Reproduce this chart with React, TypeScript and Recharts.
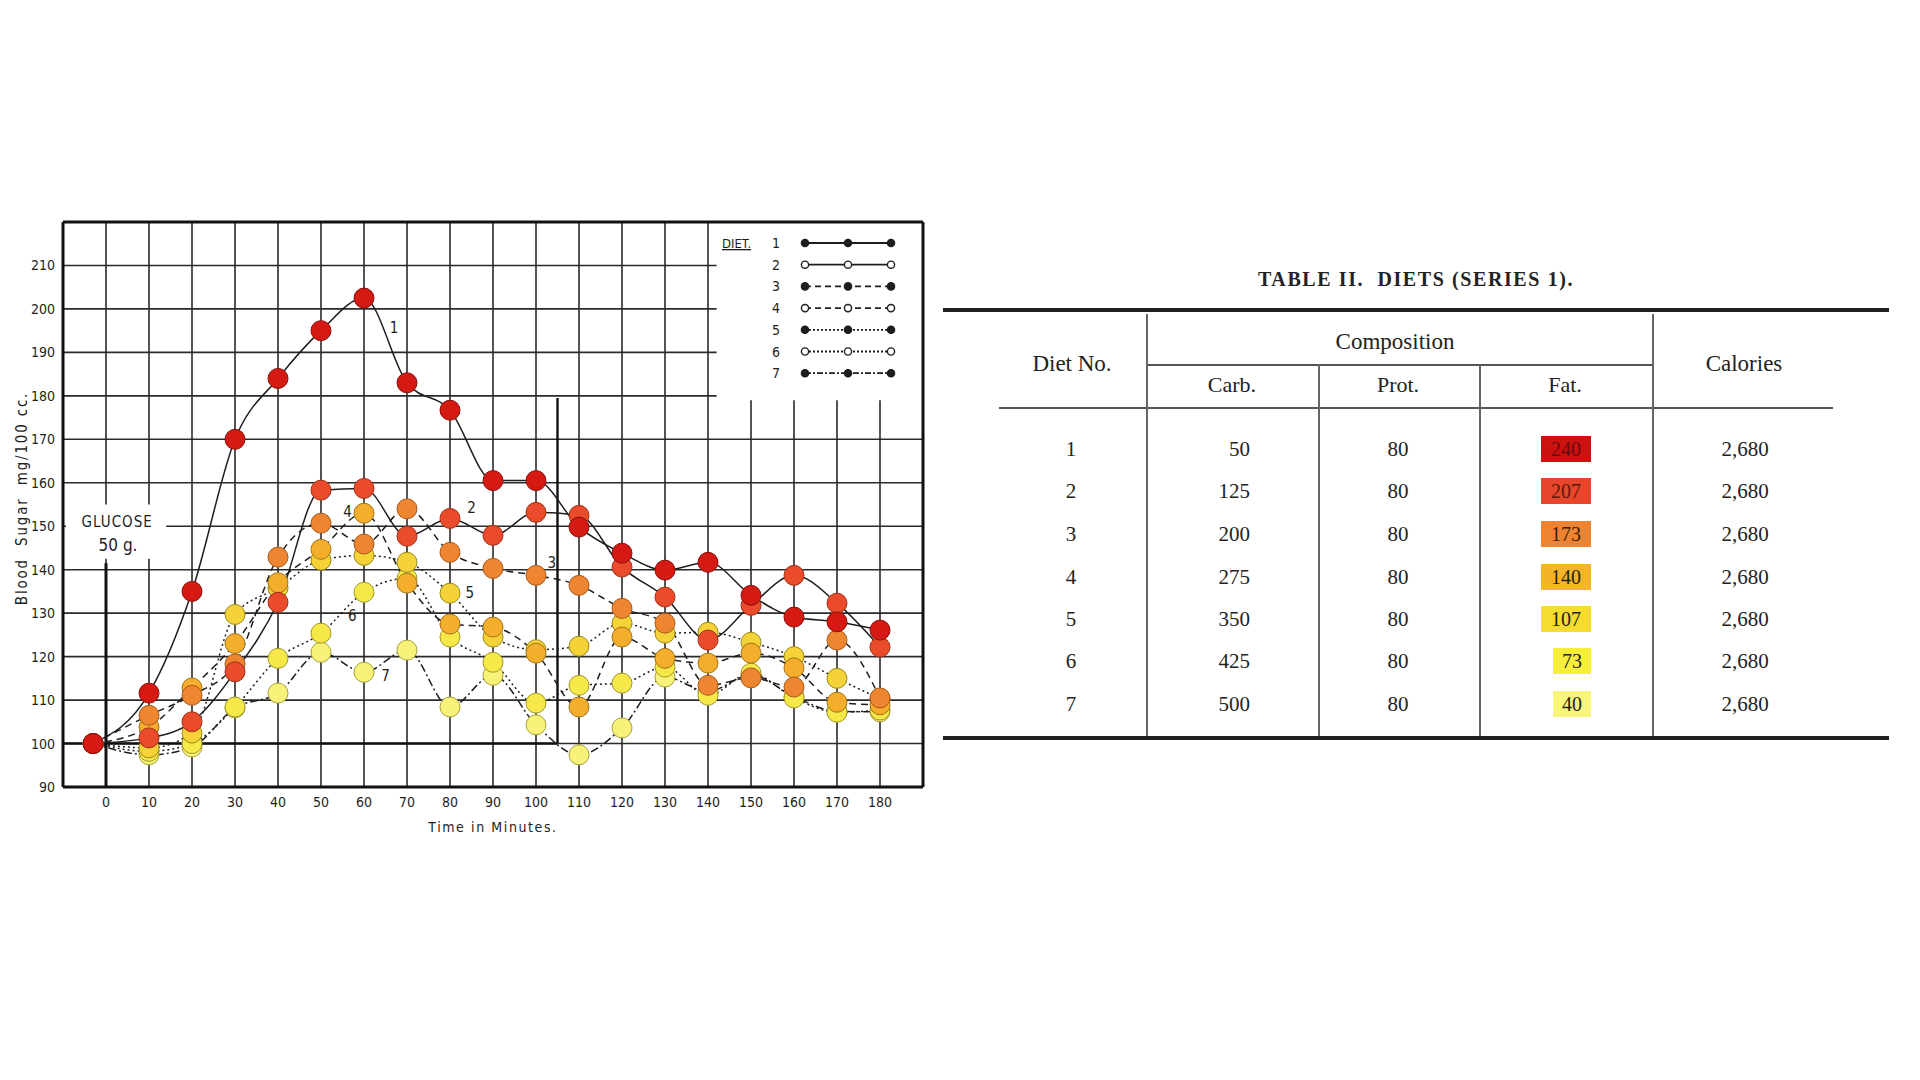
import React from "react";
import {
  CartesianGrid,
  Legend,
  Line,
  LineChart,
  ReferenceArea,
  ReferenceDot,
  ReferenceLine,
  XAxis,
  YAxis,
} from "recharts";

// minutes after glucose; first reading plotted just left of 0
const times = [-3, 10, 20, 30, 40, 50, 60, 70, 80, 90, 100, 110, 120, 130, 140, 150, 160, 170, 180];

const diet1 = [100, 111.6, 135, 170, 184, 195, 202.5, 183, 176.7, 160.5, 160.5, 149.8, 143.8, 139.9, 141.7, 134.1, 129.1, 128, 126.1];
const diet2 = [100, 101.3, 105, 116.5, 132.5, 158.3, 158.7, 147.7, 151.8, 147.9, 153.2, 152.5, 140.6, 133.7, 123.8, 131.8, 138.7, 132.3, 122.2];
const diet3 = [100, 106.5, 111.1, 118.3, 142.9, 150.7, 145.9, 154, 144, 140.3, 138.7, 136.4, 131.1, 127.7, 113.4, 115.1, 113, 123.8, 110.5];
const diet4 = [100, 103.8, 112.8, 123, 137, 144.7, 153, 136.9, 127.5, 126.8, 120.8, 108.4, 124.5, 119.6, 118.5, 120.8, 117.4, 109.5, 108.9];
const diet5 = [100, 99, 102.4, 129.7, 135.8, 142.2, 143.3, 141.7, 134.6, 124.5, 121.6, 122.4, 127.7, 125.4, 125.6, 123.3, 120, 115, 110.3];
const diet6 = [100, 98.2, 100, 108.4, 119.6, 125.4, 134.8, 138, 124.5, 118.7, 109.3, 113.4, 113.9, 117.6, 111.1, 116.2, 110.5, 107.2, 107.7];
const diet7 = [100, 97.4, 99.2, 108.2, 111.6, 121, 116.4, 121.5, 108.4, 115.7, 104.3, 97.4, 103.6, 115.3, 112, 115.8, 110.8, 107.4, 107.3];

const dietSeries = [diet1, diet2, diet3, diet4, diet5, diet6, diet7];
const dietNames = ["1", "2", "3", "4", "5", "6", "7"];
const dietFill = ["#d41a12", "#e94b2b", "#ee8531", "#f4ae2c", "#f5d338", "#f7e84a", "#f8f27a"];
const dietEdge = ["#8c1008", "#a03018", "#a85a18", "#a07518", "#9a8a18", "#a09a28", "#a8a23a"];
const dietDash = ["", "", "7 5", "7 5", "2 3", "2 3", "8 3 2 3"];
const legendDash = ["", "", "6 4", "6 4", "2 2", "2 2", "6 2 2 2"];
const legendOpen = [false, true, false, true, false, true, false];

// curve numbers written beside the lines: [label, minutes, mg]
const curveLabels: [string, number, number][] = [
  ["1", 67, 195.7],
  ["2", 85, 154.3],
  ["3", 103.7, 141.5],
  ["4", 56.2, 153.3],
  ["5", 84.6, 134.8],
  ["6", 57.3, 129.4],
  ["7", 65, 115.6],
];

const yTicks = [90, 100, 110, 120, 130, 140, 150, 160, 170, 180, 190, 200, 210];
const xTicks = [0, 10, 20, 30, 40, 50, 60, 70, 80, 90, 100, 110, 120, 130, 140, 150, 160, 170, 180];

// table II
const carb = [50, 125, 200, 275, 350, 425, 500];
const prot = [80, 80, 80, 80, 80, 80, 80];
const fat = [240, 207, 173, 140, 107, 73, 40];
const calories = ["2,680", "2,680", "2,680", "2,680", "2,680", "2,680", "2,680"];
const fatColors = ["#cc1111", "#e8452a", "#ee8432", "#f2b52a", "#f6dc30", "#f8ef3a", "#f9f67c"];
const fatText = ["#6a0a0a", "#5a1a0a", "#3a2008", "#2a2008", "#222", "#222", "#222"];

const chartData = times.map((t, i) => {
  const row: Record<string, number> = { t };
  dietSeries.forEach((s, k) => (row["d" + (k + 1)] = s[i]));
  return row;
});

const axisFont = "'Liberation Sans Narrow', 'DejaVu Sans Condensed', 'DejaVu Sans', sans-serif";
const serif = "'Liberation Serif', 'DejaVu Serif', serif";
const ink = "#1e1e1e";

function YLabel(props: any) {
  const vb = props.viewBox || { x: 23, y: 222, width: 40, height: 565 };
  const cx = vb.x - 1;
  const cy = vb.y + vb.height / 2 - 6;
  return (
    <text
      x={cx}
      y={cy}
      transform={`rotate(-90 ${cx} ${cy})`}
      textAnchor="middle"
      dominantBaseline="central"
      fontFamily={axisFont}
      fontSize={15}
      letterSpacing={1.8}
      fill={ink}
      style={{ whiteSpace: "pre" }}
    >
      Blood  Sugar  mg/100 cc.
    </text>
  );
}

function DietLegend() {
  return (
    <svg width={205} height={160}>
      <text x={5} y={16} fontFamily={axisFont} fontSize={13} fill={ink} textDecoration="underline">
        DIET.
      </text>
      {dietNames.map((n, i) => {
        const y = 11 + i * 21.7;
        return (
          <g key={n}>
            <text x={55} y={y + 5} fontFamily={axisFont} fontSize={14} fill={ink}>
              {n}
            </text>
            <line x1={88} x2={174} y1={y} y2={y} stroke={ink} strokeWidth={1.8} strokeDasharray={legendDash[i]} />
            {[88, 131, 174].map((cx) => (
              <circle
                key={cx}
                cx={cx}
                cy={y}
                r={3.6}
                fill={legendOpen[i] ? "#fff" : ink}
                stroke={ink}
                strokeWidth={1.4}
              />
            ))}
          </g>
        );
      })}
    </svg>
  );
}

function DietTable() {
  const rowY = [449, 491, 534, 577, 619, 661, 704];
  const rule = (top: number, left: number, width: number, h: number, c: string) => (
    <div style={{ position: "absolute", top, left, width, height: h, background: c }} />
  );
  const vline = (left: number, top: number) => (
    <div style={{ position: "absolute", top, left, width: 1.5, height: 736 - top, background: "#666" }} />
  );
  const txt = (s: React.ReactNode, cx: number, cy: number, extra: React.CSSProperties = {}) => (
    <div
      style={{
        position: "absolute",
        left: cx - 150,
        top: cy - 15,
        width: 300,
        height: 30,
        lineHeight: "30px",
        textAlign: "center",
        fontFamily: serif,
        fontSize: 21,
        color: "#222",
        whiteSpace: "pre",
        ...extra,
      }}
    >
      {s}
    </div>
  );
  return (
    <div style={{ position: "absolute", left: 0, top: 0, width: 1920, height: 1080 }}>
      {txt("TABLE II.  DIETS (SERIES 1).", 1416, 279, { width: 600, left: 1116, fontSize: 20, fontWeight: 700, letterSpacing: 1.6 })}
      {rule(308, 943, 946, 4, "#222")}
      {rule(736, 943, 946, 4, "#222")}
      {rule(364, 1146, 506, 2, "#555")}
      {rule(407, 999, 834, 2, "#555")}
      {vline(1146, 314)}
      {vline(1318, 365)}
      {vline(1479, 365)}
      {vline(1652, 314)}
      {txt("Composition", 1395, 342, { fontSize: 23 })}
      {txt("Diet No.", 1072, 364, { fontSize: 23 })}
      {txt("Calories", 1744, 364, { fontSize: 23 })}
      {txt("Carb.", 1232, 385, { fontSize: 22 })}
      {txt("Prot.", 1398, 385, { fontSize: 22 })}
      {txt("Fat.", 1565, 385, { fontSize: 22 })}
      {dietNames.map((n, i) => (
        <React.Fragment key={n}>
          {txt(n, 1071, rowY[i])}
          <div
            style={{
              position: "absolute",
              left: 1150,
              width: 100,
              top: rowY[i] - 15,
              height: 30,
              lineHeight: "30px",
              textAlign: "right",
              fontFamily: serif,
              fontSize: 21,
              color: "#222",
            }}
          >
            {carb[i]}
          </div>
          {txt(prot[i], 1398, rowY[i])}
          <div
            style={{
              position: "absolute",
              left: 1591 - (String(fat[i]).length * 12 + 14),
              width: String(fat[i]).length * 12 + 14,
              top: rowY[i] - 13,
              height: 26,
              lineHeight: "26px",
              textAlign: "center",
              background: fatColors[i],
              fontFamily: serif,
              fontSize: 20,
              color: fatText[i],
            }}
          >
            {fat[i]}
          </div>
          {txt(calories[i], 1745, rowY[i])}
        </React.Fragment>
      ))}
    </div>
  );
}

export default function App() {
  return (
    <div style={{ position: "fixed", left: 0, top: 0, width: 1920, height: 1080, background: "#fff", overflow: "hidden" }}>
      <div style={{ position: "absolute", left: 0, top: 0 }}>
        <LineChart width={940} height={850} data={chartData} margin={{ top: 222, right: 17, bottom: 18, left: 23 }}>
          <CartesianGrid stroke="#2a2a2a" strokeWidth={1.6} />
          <XAxis
            dataKey="t"
            type="number"
            domain={[-10, 190]}
            ticks={xTicks}
            height={45}
            axisLine={false}
            tickLine={false}
            tickSize={0}
            tickMargin={10}
            tick={{ fontFamily: axisFont, fontSize: 14, fill: ink }}
            label={{
              value: "Time  in  Minutes.",
              position: "insideBottom",
              offset: 0,
              style: { fontFamily: axisFont, fontSize: 14, fill: ink, letterSpacing: 1.6, whiteSpace: "pre" },
            }}
          />
          <YAxis
            type="number"
            domain={[90, 220]}
            ticks={yTicks}
            width={40}
            axisLine={false}
            tickLine={false}
            tickSize={0}
            tickMargin={8}
            tick={{ fontFamily: axisFont, fontSize: 14, fill: ink }}
            label={<YLabel />}
          />
          {/* blank patches: legend corner and the glucose note */}
          <ReferenceArea x1={142} x2={190} y1={179} y2={220} fill="#fff" fillOpacity={1} stroke="none" />
          <ReferenceArea x1={-9.3} x2={14} y1={142.5} y2={155} fill="#fff" fillOpacity={1} stroke="none" />
          {/* frame */}
          <ReferenceLine x={-10} stroke="#111" strokeWidth={3} />
          <ReferenceLine x={190} stroke="#111" strokeWidth={3} />
          <ReferenceLine y={90} stroke="#111" strokeWidth={3} />
          <ReferenceLine y={220} stroke="#111" strokeWidth={3} />
          <ReferenceLine segment={[{ x: 0, y: 90 }, { x: 0, y: 141.5 }]} stroke="#111" strokeWidth={3} />
          <ReferenceLine segment={[{ x: 105, y: 100 }, { x: 105, y: 179.5 }]} stroke="#111" strokeWidth={2.4} />
          <ReferenceLine segment={[{ x: -10, y: 100 }, { x: 105, y: 100 }]} stroke="#111" strokeWidth={2.4} />
          <ReferenceDot
            x={2.6}
            y={151}
            r={0}
            stroke="none"
            fill="none"
            label={{ value: "GLUCOSE", position: "center", style: { fontFamily: axisFont, fontSize: 15, fill: ink, letterSpacing: 1 } }}
          />
          <ReferenceDot
            x={2.8}
            y={145.6}
            r={0}
            stroke="none"
            fill="none"
            label={{ value: "50 g.", position: "center", style: { fontFamily: axisFont, fontSize: 17, fill: ink } }}
          />
          {dietSeries.map((_, k) => (
            <Line
              key={"line" + k}
              dataKey={"d" + (k + 1)}
              type="monotone"
              stroke={ink}
              strokeWidth={1.5}
              strokeDasharray={dietDash[k]}
              dot={false}
              activeDot={false}
              legendType="none"
              isAnimationActive={false}
            />
          ))}
          {[6, 5, 4, 3, 2, 1, 0].map((k) => (
            <Line
              key={"dots" + k}
              dataKey={"d" + (k + 1)}
              type="monotone"
              stroke="none"
              dot={{ r: 10, fill: dietFill[k], stroke: dietEdge[k], strokeWidth: 1 }}
              activeDot={false}
              legendType="none"
              isAnimationActive={false}
            />
          ))}
          {curveLabels.map(([s, x, y]) => (
            <ReferenceDot
              key={"lab" + s}
              x={x}
              y={y}
              r={0}
              stroke="none"
              fill="none"
              label={{ value: s, position: "center", style: { fontFamily: axisFont, fontSize: 15, fill: ink } }}
            />
          ))}
          <Legend
            layout="vertical"
            align="center"
            verticalAlign="middle"
            wrapperStyle={{ position: "absolute", left: 717, top: 232, width: 205, height: 160 }}
            content={() => <DietLegend />}
          />
        </LineChart>
      </div>
      <DietTable />
    </div>
  );
}
